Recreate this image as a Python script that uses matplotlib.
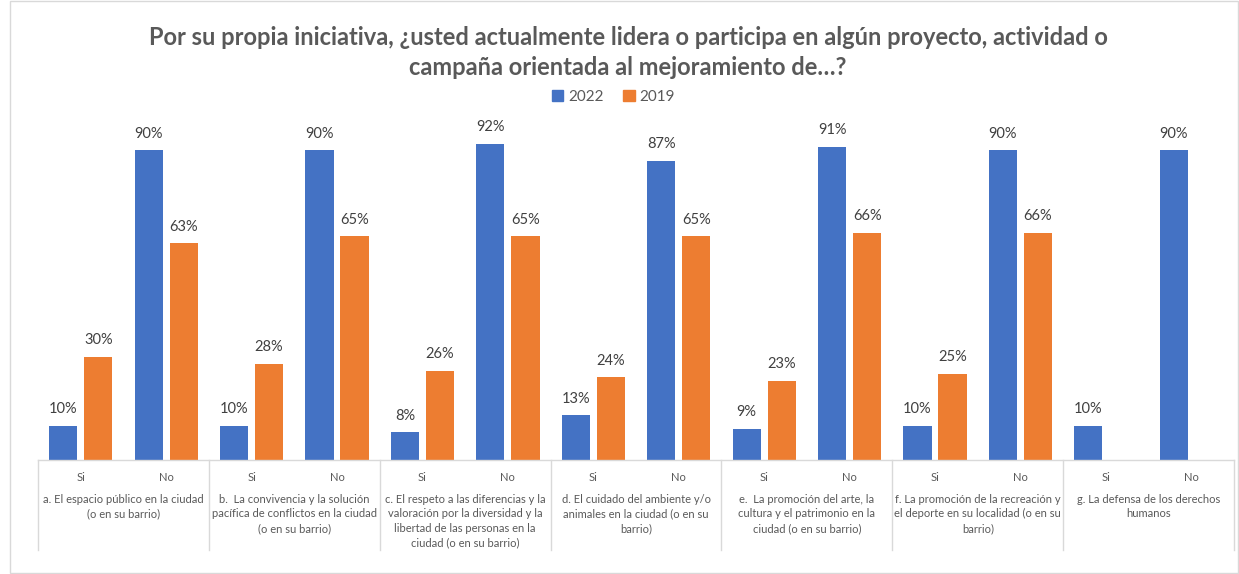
import numpy as np
import matplotlib.pyplot as plt
import matplotlib.transforms as mtransforms
from matplotlib.patches import Rectangle

plt.rcParams['font.family'] = ['Lato', 'DejaVu Sans']

categorias = ['a. El espacio público en la ciudad\n(o en su barrio)',
              'b.  La convivencia y la solución\npacífica de conflictos en la ciudad\n(o en su barrio)',
              'c. El respeto a las diferencias y la\nvaloración por la diversidad y la\nlibertad de las personas en la\nciudad (o en su barrio)',
              'd. El cuidado del ambiente y/o\nanimales en la ciudad (o en su\nbarrio)',
              'e.  La promoción del arte, la\ncultura y el patrimonio en la\nciudad (o en su barrio)',
              'f. La promoción de la recreación y\nel deporte en su localidad (o en su\nbarrio)',
              'g. La defensa de los derechos\nhumanos']
respuestas = ['Si', 'No']

# porcentajes por categoria: [Si, No]
v2022 = [[10, 90], [10, 90], [8, 92], [13, 87], [9, 91], [10, 90], [10, 90]]
v2019 = [[30, 63], [28, 65], [26, 65], [24, 65], [23, 66], [25, 66], [None, None]]

azul = '#4472c4'
naranja = '#ed7d31'
gris = '#595959'
linea = '#d9d9d9'

fig = plt.figure(figsize=(12.39, 5.74), dpi=100)
ax = fig.add_axes([0.0307, 0.1986, 0.9653, 0.5993])

# borde del area del grafico
fig.patches.append(Rectangle((10 / 1239, 0.001), 1 - 11 / 1239, 0.997,
                             transform=fig.transFigure, fill=False,
                             edgecolor=linea, linewidth=1))

ancho = 0.33
desp = 0.205
for i in range(len(categorias)):
    for j in range(2):
        xc = i * 2 + j + 0.5
        a = v2022[i][j]
        b = v2019[i][j]
        ax.bar(xc - desp, a, ancho, color=azul)
        ax.annotate(f'{a}%', (xc - desp, a), xytext=(0, 7), textcoords='offset points',
                    ha='center', va='bottom', fontsize=10.5, color='#404040')
        if b is not None:
            ax.bar(xc + desp, b, ancho, color=naranja)
            ax.annotate(f'{b}%', (xc + desp, b), xytext=(0, 7), textcoords='offset points',
                        ha='center', va='bottom', fontsize=10.5, color='#404040')

ax.set_xlim(0, 14)
ax.set_ylim(0, 100)
ax.axis('off')

# eje de categorias con separadores
trans = mtransforms.blended_transform_factory(ax.transData, ax.transAxes)
ax.plot([0, 14], [0, 0], color=linea, linewidth=1, transform=trans, clip_on=False)
for k in range(len(categorias) + 1):
    ax.plot([2 * k, 2 * k], [0, -0.262], color=linea, linewidth=1,
            transform=trans, clip_on=False)
for i, cat in enumerate(categorias):
    for j, r in enumerate(respuestas):
        ax.text(i * 2 + j + 0.5, -0.05, r, transform=trans, ha='center', va='center',
                fontsize=8, color=gris)
    ax.text(i * 2 + 1, -0.098, cat, transform=trans, ha='center', va='top',
            fontsize=8, color=gris, linespacing=1.4)

fig.text(0.507, 0.908, 'Por su propia iniciativa, ¿usted actualmente lidera o participa en algún proyecto, actividad o\ncampaña orientada al mejoramiento de…?',
         ha='center', va='center', fontsize=17, fontweight='bold', color=gris, linespacing=1.35)

h = [Rectangle((0, 0), 1, 1, color=azul), Rectangle((0, 0), 1, 1, color=naranja)]
fig.legend(h, ['2022', '2019'], loc='center', bbox_to_anchor=(0.495, 0.831), ncol=2,
           frameon=False, fontsize=11, handlelength=0.75, handleheight=0.75,
           handletextpad=0.3, columnspacing=1.3, labelcolor=gris)

fig.savefig('out.png', dpi=100)
